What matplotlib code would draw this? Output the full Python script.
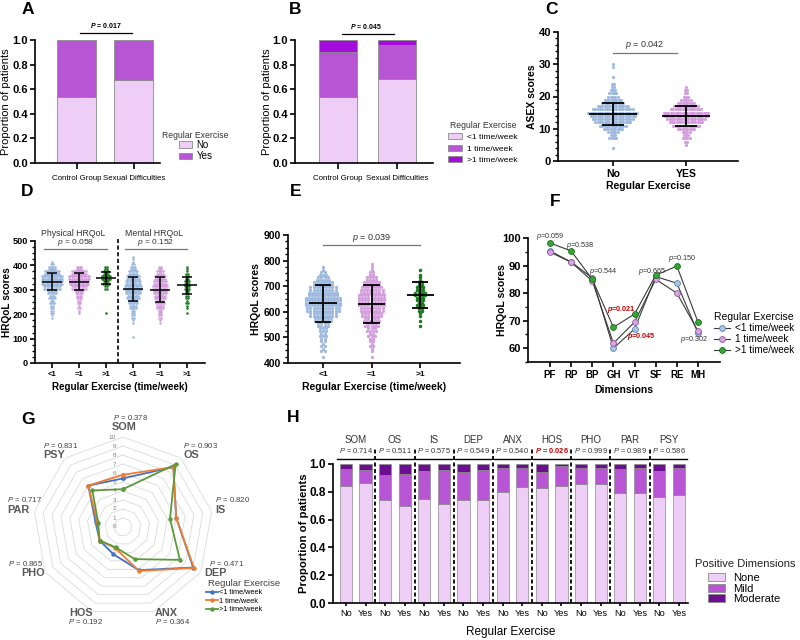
import numpy as np
import matplotlib

matplotlib.use("Agg")
import matplotlib.pyplot as plt
from matplotlib.patches import Patch
from matplotlib.ticker import MultipleLocator

plt.rcParams.update({
    "font.family": ["Liberation Sans", "DejaVu Sans"],
    "mathtext.fontset": "custom",
    "mathtext.rm": "Liberation Sans",
    "mathtext.it": "Liberation Sans:italic",
    "mathtext.bf": "Liberation Sans:bold",
    "axes.linewidth": 1.2,
    "xtick.major.width": 1.2, "ytick.major.width": 1.2,
    "xtick.minor.width": 1.0, "ytick.minor.width": 1.0,
    "xtick.major.size": 3.5, "ytick.major.size": 3.5,
    "xtick.minor.size": 2.0, "ytick.minor.size": 2.0,
    "xtick.major.pad": 2, "ytick.major.pad": 1.5,
})
if "mathtext.bfit" in plt.rcParams:
    plt.rcParams["mathtext.bfit"] = "Liberation Sans:italic:bold"
    BFIT = r"\mathbfit"
else:
    BFIT = r"\mathbf"

# ---------------- data ----------------
ab_groups = ["Control Group", "Sexual Difficulties"]
a_no = [0.535, 0.675]
a_yes = [0.465, 0.325]
b_lt1 = [0.535, 0.681]
b_eq1 = [0.365, 0.278]
b_gt1 = [0.100, 0.041]

# C: ASEX score -> number of patients
c_scores = np.arange(4, 31)
c_no_counts = [1, 0, 0, 4, 3, 5, 9, 12, 16, 18, 20, 22, 18, 14, 10, 8, 5, 4, 3, 2, 2, 0, 1, 0, 0, 1, 1]
c_yes_counts = [0, 1, 2, 4, 3, 4, 8, 12, 15, 17, 19, 20, 14, 11, 8, 5, 3, 2, 2, 1, 0, 0, 0, 0, 0, 0, 0]
c_labels = ["No", "YES"]
c_mean = [14.6, 14.0]
c_sd = [3.4, 3.2]

# D: HRQoL components, counts per 20-point bin
d_bins = np.arange(100, 460, 20)
d_phys_lt1 = [0, 0, 0, 0, 2, 4, 5, 7, 9, 14, 26, 34, 36, 24, 10, 3, 0, 0]
d_phys_eq1 = [0, 0, 0, 0, 0, 2, 3, 5, 8, 12, 22, 30, 32, 22, 8, 0, 0, 0]
d_phys_gt1 = [0, 0, 0, 0, 0, 1, 0, 0, 0, 0, 4, 9, 14, 8, 4, 0, 0, 0]
d_ment_lt1 = [1, 0, 0, 2, 4, 6, 10, 14, 19, 24, 26, 24, 20, 14, 8, 3, 2, 0]
d_ment_eq1 = [0, 0, 0, 2, 4, 6, 10, 13, 17, 20, 22, 20, 16, 10, 5, 0, 0, 0]
d_ment_gt1 = [0, 0, 0, 0, 0, 1, 2, 3, 4, 6, 8, 8, 5, 3, 2, 0, 0, 0]
d_labels = ["<1", "=1", ">1", "<1", "=1", ">1"]
d_mean = [334, 334, 348, 303, 300, 318]
d_sd = [36, 36, 23, 50, 51, 34]

# E: total HRQoL, counts per 20-point bin
e_bins = np.arange(420, 800, 20)
e_lt1 = [1, 3, 3, 4, 5, 6, 8, 12, 18, 22, 24, 24, 20, 18, 14, 9, 5, 2, 0]
e_eq1 = [1, 2, 3, 4, 5, 7, 9, 11, 14, 16, 18, 18, 17, 15, 12, 8, 4, 2, 1]
e_gt1 = [0, 0, 0, 0, 0, 0, 1, 1, 2, 4, 5, 6, 8, 6, 4, 2, 1, 1, 0]
e_labels = ["<1", "=1", ">1"]
e_mean = [634, 632, 666]
e_sd = [72, 74, 50]

# F: SF-36 dimensions
f_dims = ["PF", "RP", "BP", "GH", "VT", "SF", "RE", "MH"]
f_lt1 = [95.3, 91.3, 85.5, 60.0, 67.0, 86.0, 83.6, 65.5]
f_eq1 = [94.9, 91.2, 84.4, 61.8, 69.5, 85.0, 80.0, 66.2]
f_gt1 = [98.2, 95.3, 85.0, 67.6, 72.4, 86.5, 89.8, 69.5]
f_ann_txt = ["0.059", "0.538", "0.544", "0.021", "0.045", "0.665", "0.150", "0.302"]
f_ann_red = [False, False, False, True, True, False, False, False]
f_ann_x = [0.0, 1.42, 2.5, 3.4, 4.3, 4.83, 6.24, 6.83]
f_ann_y = [100.4, 97.1, 88.0, 74.2, 64.4, 88.0, 92.4, 63.3]

# G: SCL-90 radar
g_dims = ["SOM", "OS", "IS", "DEP", "ANX", "HOS", "PHO", "PAR", "PSY"]
g_lt1 = [5.4, 8.7, 6.0, 9.0, 5.1, 3.2, 3.0, 3.1, 6.0]
g_eq1 = [5.8, 8.7, 6.0, 9.1, 5.2, 2.5, 3.0, 2.9, 6.0]
g_gt1 = [4.2, 9.1, 5.3, 7.3, 3.8, 2.4, 3.0, 2.8, 5.3]
g_p = ["0.378", "0.903", "0.820", "0.471", "0.364", "0.192", "0.865", "0.717", "0.831"]

# H: positive SCL-90 dimensions by exercise
h_dims = g_dims
h_none_no = [0.843, 0.738, 0.748, 0.738, 0.800, 0.826, 0.855, 0.788, 0.760]
h_none_yes = [0.860, 0.695, 0.710, 0.738, 0.838, 0.845, 0.857, 0.793, 0.774]
h_mild_no = [0.121, 0.182, 0.204, 0.202, 0.174, 0.119, 0.119, 0.176, 0.192]
h_mild_yes = [0.097, 0.234, 0.247, 0.222, 0.136, 0.143, 0.117, 0.176, 0.195]
h_mod_no = [0.036, 0.080, 0.048, 0.060, 0.026, 0.055, 0.026, 0.036, 0.048]
h_mod_yes = [0.043, 0.071, 0.043, 0.040, 0.026, 0.012, 0.026, 0.031, 0.031]
h_p = ["0.714", "0.511", "0.575", "0.549", "0.540", "0.026", "0.999", "0.989", "0.586"]

# ---------------- styling ----------------
LIGHT, MID, BRIGHT, DARK = "#EECDF6", "#B755D4", "#A50BDC", "#6B0E8F"
EDGE = "#8C8C8C"
BLUE_PT, PURP_PT, GREEN_PT = "#9DB9DE", "#D39DDE", "#1F7A1F"
W, H = 800, 640

fig = plt.figure(figsize=(8, 6.4), dpi=100)


def add_ax(l, t, r, b, **kw):
    return fig.add_axes([l / W, 1 - b / H, (r - l) / W, (b - t) / H], **kw)


def ftext(x, y, s, **kw):
    fig.text(x / W, 1 - y / H, s, **kw)


def prism(ax):
    for s in ("top", "right"):
        ax.spines[s].set_visible(False)


def ylabel_at(ax, text, x_right, **kw):
    ax.set_ylabel(text, **kw)
    pos = ax.get_position()
    ax.yaxis.set_label_coords(x_right / W, pos.y0 + pos.height / 2, transform=fig.transFigure)


def xlabel_at(ax, text, y_top, **kw):
    ax.set_xlabel(text, **kw)
    pos = ax.get_position()
    ax.xaxis.set_label_coords(pos.x0 + pos.width / 2, 1 - y_top / H, transform=fig.transFigure)


def bold_ticks(ax, axis, size):
    labels = ax.get_xticklabels() if axis == "x" else ax.get_yticklabels()
    for t in labels:
        t.set_fontweight("bold")
        t.set_fontsize(size)


def swarm(ax, xc, bin_lo, counts, step, dx, maxw, rows, **kw):
    xs, ys = [], []
    for lo, n in zip(bin_lo, counts):
        if n == 0:
            continue
        for k, idx in enumerate(np.array_split(np.arange(n), rows)):
            m = len(idx)
            if m == 0:
                continue
            width = min(m * dx, maxw)
            off = (np.arange(m) - (m - 1) / 2) * (width / m)
            xs.extend(xc + off)
            ys.extend([lo + step * (k + 0.5) / rows] * m)
    ax.scatter(xs, ys, linewidths=0, zorder=2, **kw)


def mean_sd(ax, xc, m, sd, hw, cw, lw=1.3):
    ax.hlines(m, xc - hw, xc + hw, color="k", lw=lw, zorder=5)
    ax.vlines(xc, m - sd, m + sd, color="k", lw=lw, zorder=5)
    ax.hlines([m - sd, m + sd], xc - cw, xc + cw, color="k", lw=lw, zorder=5)


def prop_yaxis(ax, size):
    ax.set_ylim(0, 1)
    ax.set_yticks(np.arange(0, 1.01, 0.2), [f"{v:.1f}" for v in np.arange(0, 1.01, 0.2)])
    bold_ticks(ax, "y", size)


# ---------------- A ----------------
ax = add_ax(35, 40, 160, 163)
prism(ax)
xa = np.arange(len(ab_groups))
ax.bar(xa, a_no, 0.68, color=LIGHT, edgecolor=EDGE, lw=0.6)
ax.bar(xa, a_yes, 0.68, bottom=a_no, color=MID, edgecolor=EDGE, lw=0.6)
ax.set_xlim(-0.73, 1.46)
ax.set_xticks(xa, ab_groups, fontsize=5.7)
ax.tick_params(axis="x", length=4.5, pad=4)
prop_yaxis(ax, 8.0)
ylabel_at(ax, "Proportion of patients", 11, fontsize=8)
ax.plot([0.06, 0.97], [1.057, 1.057], color="k", lw=0.9, clip_on=False)
ax.text(0.52, 1.078, rf"${BFIT}{{P}}$ = 0.017", ha="center", va="bottom", fontsize=5, fontweight="bold")
ftext(162, 135, "Regular Exercise", fontsize=6.2, va="center", color="#333333")
ax.legend([Patch(fc=LIGHT, ec=EDGE, lw=0.6), Patch(fc=MID, ec=EDGE, lw=0.6)], ["No", "Yes"],
          loc="upper left", bbox_to_anchor=(179 / W, 1 - 140 / H), bbox_transform=fig.transFigure,
          frameon=False, fontsize=7, handlelength=1.3, handleheight=0.7, labelspacing=0.15,
          handletextpad=0.5, borderpad=0, borderaxespad=0)

# ---------------- B ----------------
ax = add_ax(295, 40, 433, 163)
prism(ax)
ax.bar(xa, b_lt1, 0.65, color=LIGHT, edgecolor=EDGE, lw=0.6)
ax.bar(xa, b_eq1, 0.65, bottom=b_lt1, color=MID, edgecolor=EDGE, lw=0.6)
ax.bar(xa, b_gt1, 0.65, bottom=np.add(b_lt1, b_eq1), color=BRIGHT, edgecolor=EDGE, lw=0.6)
ax.set_xlim(-0.735, 1.62)
ax.set_xticks(xa, ab_groups, fontsize=5.7)
ax.tick_params(axis="x", length=4.5, pad=4)
prop_yaxis(ax, 8.0)
ylabel_at(ax, "Proportion of patients", 272, fontsize=8)
ax.plot([0.07, 0.96], [1.049, 1.049], color="k", lw=0.9, clip_on=False)
ax.text(0.48, 1.07, rf"${BFIT}{{P}}$ = 0.045", ha="center", va="bottom", fontsize=5, fontweight="bold")
ftext(450, 126, "Regular Exercise", fontsize=6.2, va="center", color="#333333")
ax.legend([Patch(fc=c, ec=EDGE, lw=0.6) for c in (LIGHT, MID, BRIGHT)],
          ["<1 time/week", "1 time/week", ">1 time/week"],
          loc="upper left", bbox_to_anchor=(448 / W, 1 - 133 / H), bbox_transform=fig.transFigure,
          frameon=False, fontsize=6.1, handlelength=1.6, handleheight=0.7, labelspacing=0.45,
          handletextpad=0.7, borderpad=0, borderaxespad=0)

# ---------------- C ----------------
ax = add_ax(558, 32, 738, 161)
prism(ax)
swarm(ax, 0, c_scores - 0.5, c_no_counts, 1, 0.032, 0.72, 1, s=5, color=BLUE_PT)
swarm(ax, 1, c_scores - 0.5, c_yes_counts, 1, 0.032, 0.72, 1, s=5, color=PURP_PT)
for i in range(2):
    mean_sd(ax, i, c_mean[i], c_sd[i], 0.33, 0.15)
ax.set_xlim(-0.75, 1.71)
ax.set_ylim(0, 40)
ax.set_yticks(range(0, 41, 10))
ax.yaxis.set_minor_locator(MultipleLocator(2))
ax.set_xticks([0, 1], c_labels)
bold_ticks(ax, "x", 7.5)
bold_ticks(ax, "y", 8)
ax.plot([0, 0.88], [33.5, 33.5], color="#777777", lw=0.9, clip_on=False)
ax.text(0.44, 34.2, r"$\it{p}$ = 0.042", ha="center", va="bottom", fontsize=6.5, color="#333333")
ylabel_at(ax, "ASEX scores", 537, fontsize=7.5, fontweight="bold")
xlabel_at(ax, "Regular Exercise", 181, fontsize=7.5, fontweight="bold")

# ---------------- D ----------------
ax = add_ax(35, 241, 205, 363)
prism(ax)
d_sets = [d_phys_lt1, d_phys_eq1, d_phys_gt1, d_ment_lt1, d_ment_eq1, d_ment_gt1]
d_cols = [BLUE_PT, PURP_PT, GREEN_PT] * 2
for i, counts in enumerate(d_sets):
    swarm(ax, i, d_bins, counts, 20, 0.05, 0.8, 2, s=3.4, color=d_cols[i])
    mean_sd(ax, i, d_mean[i], d_sd[i], 0.37, 0.19, lw=1.1)
ax.set_xlim(-0.63, 5.67)
ax.set_ylim(0, 500)
ax.set_yticks(range(0, 501, 100))
ax.yaxis.set_minor_locator(MultipleLocator(25))
ax.set_xticks(range(6), d_labels)
bold_ticks(ax, "x", 5.5)
bold_ticks(ax, "y", 6.6)
ax.plot([2.45, 2.45], [0, 510], ls=(0, (2.5, 1.5)), color="k", lw=1.2, clip_on=False)
ax.plot([-0.3, 2.04], [467, 467], color="#777777", lw=0.9)
ax.plot([2.7, 5.0], [467, 467], color="#777777", lw=0.9)
ax.text(0.87, 472, r"$\it{p}$ = 0.058", ha="center", va="bottom", fontsize=6, color="#333333")
ax.text(3.85, 472, r"$\it{p}$ = 0.152", ha="center", va="bottom", fontsize=6, color="#333333")
ftext(73, 233, "Physical HRQoL", ha="center", va="center", fontsize=6.3, color="#333333")
ftext(154, 233, "Mental HRQoL", ha="center", va="center", fontsize=6.3, color="#333333")
ylabel_at(ax, "HRQoL scores", 12, fontsize=7.3, fontweight="bold")
xlabel_at(ax, "Regular Exercise (time/week)", 382, fontsize=7, fontweight="bold")

# ---------------- E ----------------
ax = add_ax(288, 235, 460, 363)
prism(ax)
for i, (counts, col) in enumerate(zip([e_lt1, e_eq1, e_gt1], [BLUE_PT, PURP_PT, GREEN_PT])):
    swarm(ax, i, e_bins, counts, 20, 0.065, 0.8, 2, s=5.5 if i < 2 else 6.5, color=col)
    mean_sd(ax, i, e_mean[i], e_sd[i], 0.28, 0.17, lw=1.3)
ax.set_xlim(-0.72, 2.82)
ax.set_ylim(400, 900)
ax.set_yticks(range(400, 901, 100))
ax.yaxis.set_minor_locator(MultipleLocator(25))
ax.set_xticks(range(3), e_labels)
bold_ticks(ax, "x", 6)
bold_ticks(ax, "y", 7.5)
ax.plot([0, 2], [861, 861], color="#777777", lw=0.9)
ax.text(1, 866, r"$\it{p}$ = 0.039", ha="center", va="bottom", fontsize=6.5, color="#333333")
ylabel_at(ax, "HRQoL scores", 261, fontsize=7.5, fontweight="bold")
xlabel_at(ax, "Regular Exercise (time/week)", 382, fontsize=7.5, fontweight="bold")

# ---------------- F ----------------
ax = add_ax(528, 238, 720, 362)
prism(ax)
xf = np.arange(len(f_dims))
f_style = [("#A9C4E6", "#5C7FAE", "<1 time/week"),
           ("#D7A5E4", "#8C5A99", "1 time/week"),
           ("#34A834", "#1B6B1B", ">1 time/week")]
for vals, (fc, ec, lab) in zip([f_lt1, f_eq1, f_gt1], f_style):
    ax.plot(xf, vals, color="#3A3A3A", lw=0.8, marker="o", ms=4.2, mfc=fc, mec=ec, mew=0.6, label=lab)
for txt, red, x, y in zip(f_ann_txt, f_ann_red, f_ann_x, f_ann_y):
    if red:
        ax.text(x, y, rf"${BFIT}{{p}}$={txt}", ha="center", va="center", fontsize=5.2,
                color="#C00000", fontweight="bold")
    else:
        ax.text(x, y, rf"$\it{{p}}$={txt}", ha="center", va="center", fontsize=5.2, color="#333333")
ax.set_xlim(-1.04, 8.04)
ax.set_ylim(55, 100)
ax.set_yticks(range(60, 101, 10))
ax.yaxis.set_minor_locator(MultipleLocator(5))
ax.set_xticks(xf, f_dims)
bold_ticks(ax, "x", 7)
bold_ticks(ax, "y", 8)
ylabel_at(ax, "HRQoL scores", 507, fontsize=7.5, fontweight="bold")
xlabel_at(ax, "Dimensions", 385, fontsize=7.5, fontweight="bold")
ax.legend(loc="upper left", bbox_to_anchor=(714 / W, 1 - 312 / H), bbox_transform=fig.transFigure,
          frameon=False, fontsize=7.2, title="Regular Exercise", title_fontsize=7.5, alignment="left",
          handlelength=1.6, labelspacing=0.1, handletextpad=0.5, borderpad=0, borderaxespad=0)

# ---------------- G ----------------
axg = add_ax(33, 437, 213, 617, projection="polar")
axg.set_theta_zero_location("N")
axg.set_theta_direction(-1)
axg.set_ylim(0, 10)
axg.grid(False)
axg.spines["polar"].set_visible(False)
axg.patch.set_visible(False)
axg.set_xticks([])
axg.set_yticks([])
theta = np.linspace(0, 2 * np.pi, len(g_dims), endpoint=False)
closed = np.append(theta, theta[0])
for r in range(1, 11):
    axg.plot(closed, [r] * len(closed), color="#DADADA", lw=0.6, zorder=1)
for r in range(0, 11):
    axg.annotate(str(r), (0, r), xytext=(-5, 0), textcoords="offset points",
                 ha="right", va="center", fontsize=4.6, color="#7F7F7F")
for vals, col, lab in zip([g_lt1, g_eq1, g_gt1], ["#4472C4", "#ED7D31", "#5A9A3A"],
                          ["<1 time/week", "1 time/week", ">1 time/week"]):
    axg.plot(closed, np.append(vals, vals[0]), color=col, lw=1.3, marker="o", ms=2.2, label=lab, zorder=3)
g_lab_x = [112, 183, 215, 204, 155, 69, 21, 7, 43]
g_lab_y = [427, 455, 510, 573, 613, 613, 573, 510, 455]
g_p_x = [113, 183, 215, 209, 155, 68, 8, 7, 43]
g_p_y = [417, 445, 499, 563, 622, 622, 563, 500, 445]
for name, p, lx, ly, px, py in zip(g_dims, g_p, g_lab_x, g_lab_y, g_p_x, g_p_y):
    ftext(lx, ly, name, fontsize=7.8, fontweight="bold", color="#595959", ha="left", va="center")
    ftext(px, py, rf"$\it{{P}}$ = {p}", fontsize=5.6, color="#404040", ha="left", va="center")
ftext(208, 583, "Regular Exercise", fontsize=6.8, color="#404040", ha="left", va="center")
axg.legend(loc="upper left", bbox_to_anchor=(206 / W, 1 - 589 / H), bbox_transform=fig.transFigure,
           frameon=False, fontsize=5.3, handlelength=1.6, labelspacing=0.2, handletextpad=0.2,
           borderpad=0, borderaxespad=0)

# ---------------- H ----------------
ax = add_ax(333, 464, 688, 603)
prism(ax)
xh_no = np.arange(len(h_dims)) * 2
xh_yes = xh_no + 1
for xs, none, mild, mod in ((xh_no, h_none_no, h_mild_no, h_mod_no),
                            (xh_yes, h_none_yes, h_mild_yes, h_mod_yes)):
    ax.bar(xs, none, 0.62, color=LIGHT, edgecolor=EDGE, lw=0.5)
    ax.bar(xs, mild, 0.62, bottom=none, color=MID, edgecolor=EDGE, lw=0.5)
    ax.bar(xs, mod, 0.62, bottom=np.add(none, mild), color=DARK, edgecolor=EDGE, lw=0.5)
ax.set_xlim(-0.66, 17.46)
ax.set_xticks(np.arange(2 * len(h_dims)), ["No", "Yes"] * len(h_dims), fontsize=6.6)
ax.tick_params(axis="x", length=2.5)
prop_yaxis(ax, 8.5)
for k in range(len(h_dims)):
    g0 = 2 * k
    if k < len(h_dims) - 1:
        ax.plot([g0 + 1.5, g0 + 1.5], [0, 1.108], ls=(0, (2.2, 1.4)), color="k", lw=1.3, clip_on=False)
    ax.plot([g0 - 0.45, g0 + 1.42], [1.036, 1.036], color="k", lw=1.0, clip_on=False)
    ax.text(g0 + 0.5, 1.173, h_dims[k], ha="center", va="center", fontsize=7, color="#333333")
    if h_p[k] == "0.026":
        ax.text(g0 + 0.5, 1.094, rf"${BFIT}{{P}}$ = {h_p[k]}", ha="center", va="center",
                fontsize=5.4, color="#C00000", fontweight="bold")
    else:
        ax.text(g0 + 0.5, 1.094, rf"$\it{{P}}$ = {h_p[k]}", ha="center", va="center",
                fontsize=5.4, color="#333333")
ylabel_at(ax, "Proportion of patients", 309, fontsize=8.2, fontweight="bold")
xlabel_at(ax, "Regular Exercise", 626, fontsize=8.5)
ftext(695, 564, "Positive Dimensions", fontsize=8, color="#222222", ha="left", va="center")
ax.legend([Patch(fc=c, ec=EDGE, lw=0.6) for c in (LIGHT, MID, DARK)], ["None", "Mild", "Moderate"],
          loc="upper left", bbox_to_anchor=(708 / W, 1 - 573 / H), bbox_transform=fig.transFigure,
          frameon=False, fontsize=8, handlelength=1.5, handleheight=0.75, labelspacing=0.05,
          handletextpad=0.8, borderpad=0, borderaxespad=0)

# ---------------- panel letters ----------------
for letter, x, y in [("A", 28, 9), ("B", 295, 9), ("C", 552, 10), ("D", 27, 192), ("E", 296, 192),
                     ("F", 555, 201), ("G", 28, 420), ("H", 293, 417)]:
    ftext(x, y, letter, fontsize=12.5, fontweight="bold", ha="center", va="center")

fig.savefig("out.png", dpi=100)
